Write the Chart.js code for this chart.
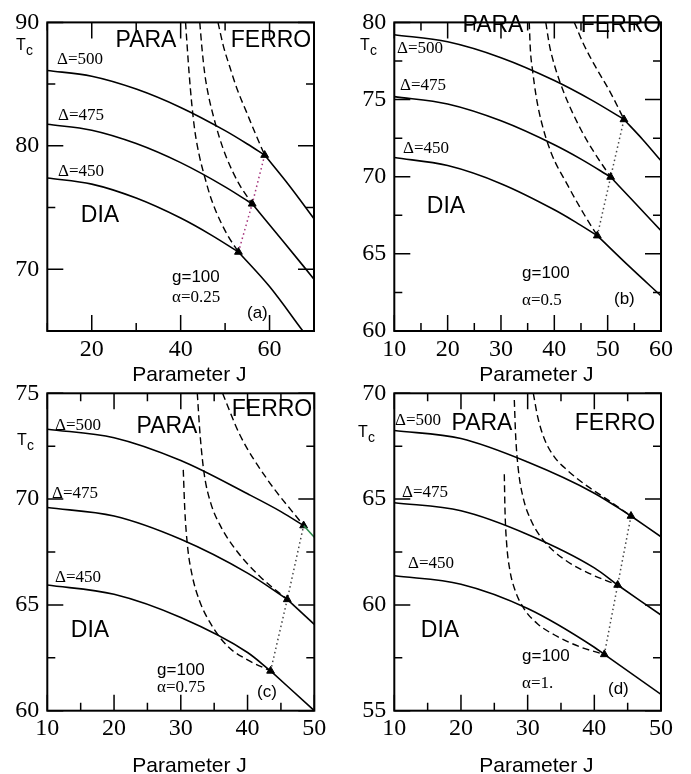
<!DOCTYPE html>
<html>
<head>
<meta charset="utf-8">
<script src="https://cdn.jsdelivr.net/npm/chart.js"></script>
<style>
  html, body { margin: 0; padding: 0; background: #fff; }
  #wrap { position: relative; width: 691px; height: 774px; }
  #wrap canvas { position: absolute; left: 0; top: 0; }
</style>
</head>
<body>
<div id="wrap">
  <canvas id="pa" width="691" height="774"></canvas>
  <canvas id="pb" width="691" height="774"></canvas>
  <canvas id="pc" width="691" height="774"></canvas>
  <canvas id="pd" width="691" height="774"></canvas>
</div>
<script>
// (a) g=100, alpha=0.25 : [J, Tc] pairs
const A_dia500 = [[10,86.1],[20,85.64],[30,84.6],[40,83.11],[50,81.23],[55,80.15],[58.9,79.25]];
const A_fer500 = [[58.9,79.25],[64.5,76.75],[70,74.1]];
const A_dia475 = [[10,81.75],[20,81.27],[30,80.19],[40,78.64],[50,76.68],[56.1,75.3]];
const A_fer475 = [[56.1,75.3],[63,72.3],[70,69.2]];
const A_dia450 = [[10,77.4],[20,76.9],[30,75.77],[40,74.15],[47,72.75],[53,71.4]];
const A_fer450 = [[53,71.4],[60,68.6],[67.5,65.0]];
const A_bnd1 = [[41.1,90],[41.5,87.9],[41.9,85.9],[42.5,83.4],[43.2,81.2],[44.2,79.2],[45.4,77.5],[46.6,76.0],[48.05,74.6],[50.5,72.8],[53,71.4]];
const A_bnd2 = [[44.3,90],[44.8,87.9],[45.4,85.9],[46.3,84.0],[47.3,82.5],[48.7,80.7],[50.3,79.06],[53,77.0],[56.1,75.3]];
const A_bnd3 = [[48.4,90],[49.6,88.1],[51.05,86.4],[52.8,84.5],[54.8,82.75],[56.8,81.0],[58.9,79.25]];
const A_tri = [[53,71.4],[56.1,75.3],[58.9,79.25]];

// (b) alpha=0.5
const B_dia500 = [[10,79.2],[20,78.74],[30,77.71],[40,76.23],[47,74.96],[53.06,73.71]];
const B_fer500 = [[53.06,73.71],[56.6,72.4],[60,71.03]];
const B_dia475 = [[10,75.19],[20,74.71],[30,73.62],[40,72.07],[45,71.14],[50.56,69.98]];
const B_fer475 = [[50.56,69.98],[55,68.34],[60,66.5]];
const B_dia450 = [[10,71.24],[20,70.72],[30,69.55],[40,67.86],[44,67.06],[48.06,66.18]];
const B_fer450 = [[48.06,66.18],[54,64.2],[60,62.28]];
const B_bnd1 = [[35.3,80],[35.5,78.3],[35.94,76.84],[36.6,75.2],[37.5,73.67],[39.4,71.56],[42.5,69.45],[45.6,67.55],[48.06,66.18]];
const B_bnd2 = [[38.4,80],[39.1,78.5],[40,77.26],[41.9,75.36],[45,73.04],[47.5,71.56],[50.56,69.98]];
const B_bnd3 = [[43.75,80],[45.3,78.73],[47.5,77.26],[50.6,75.4],[53.06,73.71]];
const B_tri = [[48.06,66.18],[50.56,69.98],[53.06,73.71]];

// (c) alpha=0.75
const C_dia500 = [[10,73.3],[20,72.9],[30,71.82],[40,70.25],[45,69.41],[48.4,68.75]];
const C_fer500 = [[48.4,68.75],[50,68.2]];
const C_dia475 = [[10,69.6],[20,69.2],[30,68.1],[40,66.5],[45.95,65.26]];
const C_fer475 = [[45.95,65.26],[50,64.08]];
const C_dia450 = [[10,65.94],[20,65.5],[30,64.4],[40,62.75],[43.45,61.88]];
const C_fer450 = [[43.45,61.88],[50,60.0]];
const C_bnd1 = [[30.37,71.38],[30.6,69.5],[31.0,67.8],[31.7,66.4],[32.8,65.2],[34.5,64.1],[37.0,63.05],[40.0,62.4],[43.45,61.88]];
const C_bnd2 = [[32.47,75],[32.9,73],[33.5,71.2],[34.5,69.8],[36,68.7],[38.5,67.5],[42,66.3],[45.95,65.26]];
const C_bnd3 = [[36.26,75],[38.86,73.03],[42.85,70.98],[48.4,68.75]];
const C_tri = [[43.45,61.88],[45.95,65.26],[48.4,68.75]];

// (d) alpha=1.
const D_dia500 = [[10,68.24],[20,67.86],[30,66.75],[40,65.28],[45.5,64.2]];
const D_fer500 = [[45.5,64.2],[50,63.22]];
const D_dia475 = [[10,64.83],[20,64.45],[30,63.33],[40,61.75],[43.5,60.94]];
const D_fer475 = [[43.5,60.94],[50,59.52]];
const D_dia450 = [[10,61.38],[20,60.98],[30,59.83],[40,58.0],[41.5,57.66]];
const D_fer450 = [[41.5,57.66],[50,55.77]];
const D_bnd1 = [[26.5,66.17],[26.6,64.5],[26.85,62.9],[27.3,61.7],[28.1,60.7],[29.5,59.8],[31.5,59.1],[34.5,58.5],[38,58.0],[41.5,57.66]];
const D_bnd2 = [[28,69.68],[28.2,68.0],[28.6,66.4],[29.3,65.1],[30.5,64.0],[32.5,63.0],[35.5,62.15],[39.5,61.45],[43.5,60.94]];
const D_bnd3 = [[30.85,70],[31.5,68.9],[32.5,67.85],[34,67.0],[36,66.35],[39,65.6],[42.1,64.95],[45.5,64.2]];
const D_tri = [[41.5,57.66],[43.5,60.94],[45.5,64.2]];

// axis ranges: [min, max, minor step, major (labelled) step]
const A_xr = [10, 70, 10, 20], A_yr = [65, 90, 5, 10];
const B_xr = [10, 60, 5, 10],  B_yr = [60, 80, 2.5, 5];
const C_xr = [10, 50, 5, 10],  C_yr = [60, 75, 2.5, 5];
const D_xr = [10, 50, 5, 10],  D_yr = [55, 70, 2.5, 5];

const SANS = '"Liberation Sans", Arial, sans-serif';
const SERIF = '"Liberation Serif", "Times New Roman", serif';
const BIG = '23px ' + SANS, SM = '17px ' + SANS, DEL = '17px ' + SERIF;
const TF = '16px ' + SANS, CF = '14px ' + SANS;

const panels = [
  { id: 'pa', area: [47.3, 15, 314, 331], xr: A_xr, yr: A_yr, xh: 57, tp: 2,
    dia: [A_dia500, A_dia475, A_dia450], fer: [A_fer500, A_fer475, A_fer450],
    bnd: [A_bnd1, A_bnd2, A_bnd3], tri: A_tri, triColor: '#a3327a', ferColor: '#000',
    notes: [
      {t: 'PARA', x: 146, y: 47, f: BIG, al: 'center'}, {t: 'FERRO', x: 271, y: 47, f: BIG, al: 'center'},
      {t: 'DIA', x: 100, y: 222, f: BIG, al: 'center'},
      {t: 'Δ=500', x: 57, y: 64, f: DEL}, {t: 'Δ=475', x: 58, y: 120, f: DEL}, {t: 'Δ=450', x: 58, y: 176, f: DEL},
      {t: 'g=100', x: 172, y: 282, f: SM}, {t: 'α=0.25', x: 172, y: 302, f: DEL}, {t: '(a)', x: 247, y: 318, f: SM},
      {t: 'T', x: 16, y: 50, f: TF}, {t: 'c', x: 26, y: 55, f: CF}
    ] },
  { id: 'pb', area: [394.3, 15, 661, 331], xr: B_xr, yr: B_yr, xh: 57, tp: 2,
    dia: [B_dia500, B_dia475, B_dia450], fer: [B_fer500, B_fer475, B_fer450],
    bnd: [B_bnd1, B_bnd2, B_bnd3], tri: B_tri, triColor: '#444', ferColor: '#000',
    notes: [
      {t: 'PARA', x: 493, y: 32, f: BIG, al: 'center'}, {t: 'FERRO', x: 621, y: 32, f: BIG, al: 'center'},
      {t: 'DIA', x: 446, y: 213, f: BIG, al: 'center'},
      {t: 'Δ=500', x: 397, y: 53, f: DEL}, {t: 'Δ=475', x: 400, y: 90, f: DEL}, {t: 'Δ=450', x: 403, y: 153, f: DEL},
      {t: 'g=100', x: 522, y: 278, f: SM}, {t: 'α=0.5', x: 522, y: 305, f: DEL}, {t: '(b)', x: 614, y: 304, f: SM},
      {t: 'T', x: 360, y: 50, f: TF}, {t: 'c', x: 370, y: 55, f: CF}
    ] },
  { id: 'pc', area: [47.3, 393.3, 314.3, 710.7], xr: C_xr, yr: C_yr, xh: 63.3, tp: -2.5,
    dia: [C_dia500, C_dia475, C_dia450], fer: [C_fer500, C_fer475, C_fer450],
    bnd: [C_bnd1, C_bnd2, C_bnd3], tri: C_tri, triColor: '#444', ferColor: '#2a8a4a',
    notes: [
      {t: 'PARA', x: 167, y: 433, f: BIG, al: 'center'}, {t: 'FERRO', x: 272, y: 416, f: BIG, al: 'center'},
      {t: 'DIA', x: 90, y: 637, f: BIG, al: 'center'},
      {t: 'Δ=500', x: 55, y: 430, f: DEL}, {t: 'Δ=475', x: 52, y: 498, f: DEL}, {t: 'Δ=450', x: 55, y: 582, f: DEL},
      {t: 'g=100', x: 157, y: 675, f: SM}, {t: 'α=0.75', x: 157, y: 692, f: DEL}, {t: '(c)', x: 257, y: 697, f: SM},
      {t: 'T', x: 17, y: 445, f: TF}, {t: 'c', x: 27, y: 450, f: CF}
    ] },
  { id: 'pd', area: [394.3, 393.3, 661, 710.7], xr: D_xr, yr: D_yr, xh: 63.3, tp: -2.5,
    dia: [D_dia500, D_dia475, D_dia450], fer: [D_fer500, D_fer475, D_fer450],
    bnd: [D_bnd1, D_bnd2, D_bnd3], tri: D_tri, triColor: '#444', ferColor: '#000',
    notes: [
      {t: 'PARA', x: 482, y: 430, f: BIG, al: 'center'}, {t: 'FERRO', x: 615, y: 430, f: BIG, al: 'center'},
      {t: 'DIA', x: 440, y: 637, f: BIG, al: 'center'},
      {t: 'Δ=500', x: 395, y: 425, f: DEL}, {t: 'Δ=475', x: 402, y: 497, f: DEL}, {t: 'Δ=450', x: 408, y: 568, f: DEL},
      {t: 'g=100', x: 522, y: 661, f: SM}, {t: 'α=1.', x: 522, y: 688, f: DEL}, {t: '(d)', x: 608, y: 694, f: SM},
      {t: 'T', x: 358, y: 437, f: TF}, {t: 'c', x: 368, y: 442, f: CF}
    ] }
];

const xy = arr => arr.map(p => ({x: p[0], y: p[1]}));
const isMajor = (v, step) => Math.abs(v / step - Math.round(v / step)) < 1e-6;

function curve(arr, extra) {
  return Object.assign({
    data: xy(arr), showLine: true, borderColor: '#000', borderWidth: 1.6,
    pointRadius: 0, cubicInterpolationMode: 'monotone', fill: false
  }, extra || {});
}

// inward ticks on all four sides plus the frame
const boxPlugin = {
  id: 'box',
  afterDatasetsDraw(chart) {
    const {ctx, chartArea: a} = chart;
    const xs = chart.scales.x, ys = chart.scales.y;
    ctx.save();
    ctx.strokeStyle = '#000';
    ctx.lineWidth = 1.5;
    ctx.beginPath();
    xs.ticks.forEach(t => {
      const px = xs.getPixelForValue(t.value);
      const len = t.label !== '' ? 16 : 8;
      ctx.moveTo(px, a.bottom); ctx.lineTo(px, a.bottom - len);
      ctx.moveTo(px, a.top); ctx.lineTo(px, a.top + len);
    });
    ys.ticks.forEach(t => {
      const py = ys.getPixelForValue(t.value);
      const len = t.label !== '' ? 16 : 8;
      ctx.moveTo(a.left, py); ctx.lineTo(a.left + len, py);
      ctx.moveTo(a.right, py); ctx.lineTo(a.right - len, py);
    });
    ctx.stroke();
    ctx.lineWidth = 2;
    ctx.strokeRect(a.left, a.top, a.right - a.left, a.bottom - a.top);
    ctx.restore();
  }
};

function notesPlugin(notes) {
  return {
    id: 'notes',
    afterDraw(chart) {
      const ctx = chart.ctx;
      ctx.save();
      ctx.fillStyle = '#000';
      ctx.textBaseline = 'alphabetic';
      notes.forEach(n => {
        ctx.font = n.f;
        ctx.textAlign = n.al || 'left';
        ctx.fillText(n.t, n.x, n.y);
      });
      ctx.restore();
    }
  };
}

const YW = 45;

panels.forEach(p => {
  const [l, t, r, b] = p.area;
  const datasets = [];
  p.dia.forEach(c => datasets.push(curve(c)));
  p.fer.forEach((c, i) => datasets.push(curve(c, i === 0 ? {borderColor: p.ferColor} : {})));
  p.bnd.forEach(c => datasets.push(curve(c, {borderDash: [7, 4], borderWidth: 1.4})));
  datasets.push({
    data: xy(p.tri), showLine: true, borderColor: p.triColor, borderWidth: 1.5, borderDash: [1.5, 3],
    pointStyle: 'triangle', pointRadius: 4.5, pointBackgroundColor: '#000', pointBorderColor: '#000',
    pointBorderWidth: 1, tension: 0
  });

  new Chart(document.getElementById(p.id), {
    type: 'scatter',
    data: {datasets},
    options: {
      responsive: false,
      animation: false,
      events: [],
      layout: {padding: {left: l - YW, top: t, right: 691 - r, bottom: 774 - b - p.xh}},
      plugins: {legend: {display: false}, tooltip: {enabled: false}},
      scales: {
        x: {
          type: 'linear', min: p.xr[0], max: p.xr[1],
          afterFit: s => { s.height = p.xh; },
          grid: {display: false, drawTicks: false},
          border: {display: false},
          ticks: {
            stepSize: p.xr[2], autoSkip: false, maxRotation: 0, padding: 4, color: '#000',
            font: {family: SERIF, size: 24},
            callback: v => isMajor(v, p.xr[3]) ? String(v) : ''
          },
          title: {
            display: true, text: '   Parameter J', color: '#000',
            font: {family: SANS, size: 21, lineHeight: 1},
            padding: {top: 0, bottom: p.tp}
          }
        },
        y: {
          type: 'linear', min: p.yr[0], max: p.yr[1],
          afterFit: s => { s.width = YW; },
          grid: {display: false, drawTicks: false},
          border: {display: false},
          ticks: {
            stepSize: p.yr[2], autoSkip: false, padding: 8, color: '#000',
            font: {family: SERIF, size: 24},
            callback: v => isMajor(v, p.yr[3]) ? String(v) : ''
          }
        }
      }
    },
    plugins: [boxPlugin, notesPlugin(p.notes)]
  });
});
</script>
</body>
</html>
